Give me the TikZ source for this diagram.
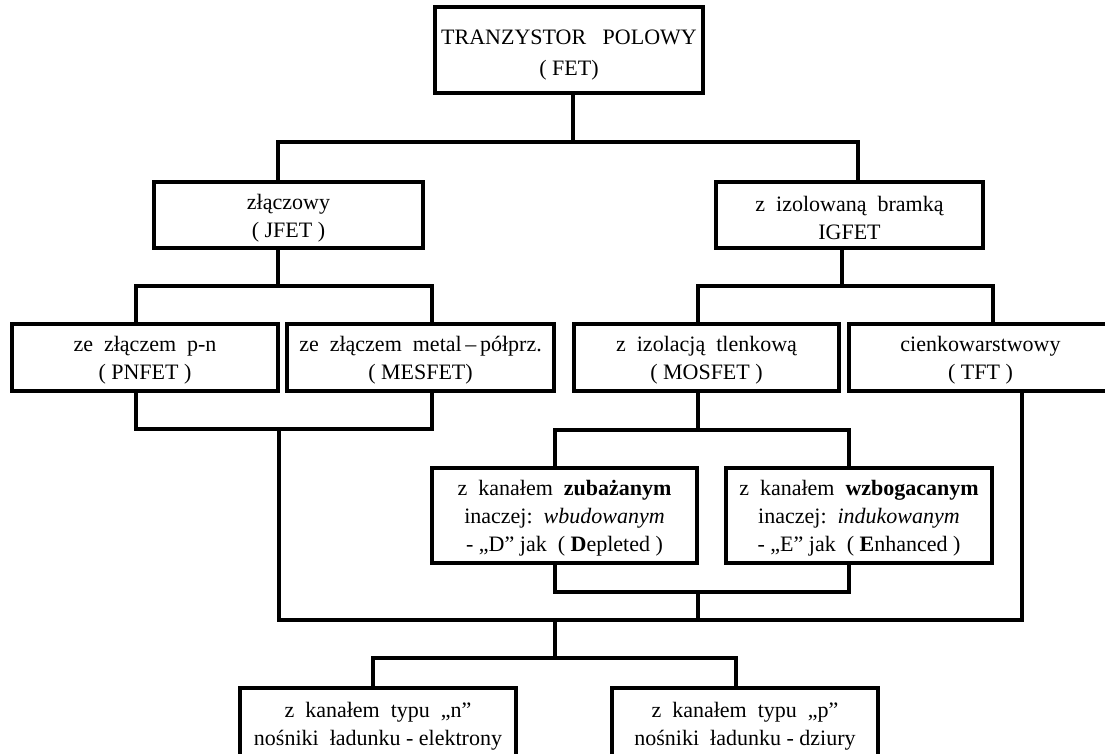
\documentclass[tikz,border=0pt]{standalone}
\usepackage{fontspec}
\setmainfont{Liberation Serif}
\newcommand{\fst}{\rule{0pt}{21pt}}
\begin{document}
\begin{tikzpicture}[x=1pt,y=-1pt,
  box/.style={draw, line width=3.2pt, rectangle, inner sep=0pt, align=center,
    font=\fontsize{22}{28}\selectfont},
  conn/.style={line width=3.2pt, line cap=rect, line join=miter}]
\useasboundingbox (0,0) rectangle (1105,753);
\fill[white] (0,0) rectangle (1105,753);
% nodes
\node[box, minimum width=268pt, minimum height=86pt, font=\fontsize{22}{30.5}\selectfont] (top) at (569,50) {\rule{0pt}{25pt}TRANZYSTOR\ \ \ POLOWY\\( FET)};
\node[box, minimum width=269pt, minimum height=66pt] (jfet) at (288.5,215) {\fst złączowy\\( JFET )};
\node[box, minimum width=267pt, minimum height=66pt] (igfet) at (849.5,215) {\fst z\ \ izolowaną\ \ bramką\\IGFET};
\node[box, minimum width=266pt, minimum height=67pt] (pn) at (145,357.5) {\fst ze\ \ złączem\ \ p-n\\( PNFET )};
\node[box, minimum width=267pt, minimum height=67pt] (mes) at (420.5,357.5) {\fst ze\ \ złączem\ \ metal\,–\,półprz.\\( MESFET)};
\node[box, minimum width=265pt, minimum height=67pt] (mos) at (706.5,357.5) {\fst z\ \ izolacją\ \ tlenkową\\( MOSFET )};
\node[box, minimum width=263pt, minimum height=67pt] (tft) at (980.5,357.5) {\fst cienkowarstwowy\\( TFT )};
\node[box, minimum width=265pt, minimum height=95pt] (dep) at (564.5,515.5) {\fst z\ \ kanałem\ \ \textbf{zubażanym}\\inaczej:\ \ \textit{wbudowanym}\\- „D” jak\ \ ( \textbf{D}epleted )};
\node[box, minimum width=266pt, minimum height=95pt] (enh) at (859,515.5) {\fst z\ \ kanałem\ \ \textbf{wzbogacanym}\\inaczej:\ \ \textit{indukowanym}\\- „E” jak\ \ ( \textbf{E}nhanced )};
\node[box, minimum width=276pt, minimum height=76pt] (nch) at (378,726) {z\ \ kanałem\ \ typu\ \ „n”\\nośniki\ \ ładunku - elektrony};
\node[box, minimum width=266pt, minimum height=76pt] (pch) at (745,726) {z\ \ kanałem\ \ typu\ \ „p”\\nośniki\ \ ładunku - dziury};
% junction coordinates
\coordinate (t0) at (573,142);
\coordinate (tL) at (278,142);
\coordinate (tR) at (858,142);
\coordinate (j0) at (278,286);
\coordinate (jL) at (136,286);
\coordinate (jR) at (432,286);
\coordinate (i0) at (842,286);
\coordinate (iL) at (698,286);
\coordinate (iR) at (993,286);
\coordinate (aL) at (136,429);
\coordinate (aR) at (432,429);
\coordinate (a0) at (279,429);
\coordinate (m0) at (698,430);
\coordinate (mL) at (555,430);
\coordinate (mR) at (849,430);
\coordinate (dL) at (555,592);
\coordinate (dR) at (849,592);
\coordinate (d0) at (698,592);
\coordinate (hL) at (279,620);
\coordinate (hM) at (698,620);
\coordinate (hB) at (555,620);
\coordinate (hR) at (1022,620);
\coordinate (b0) at (555,658);
\coordinate (bL) at (373,658);
\coordinate (bR) at (736,658);
% connectors
\draw[conn] (top.south -| t0) -- (t0);
\draw[conn] (jfet.north -| tL) -- (tL) -- (tR) -- (igfet.north -| tR);
\draw[conn] (jfet.south -| j0) -- (j0);
\draw[conn] (pn.north -| jL) -- (jL) -- (jR) -- (mes.north -| jR);
\draw[conn] (igfet.south -| i0) -- (i0);
\draw[conn] (mos.north -| iL) -- (iL) -- (iR) -- (tft.north -| iR);
\draw[conn] (pn.south -| aL) -- (aL) -- (aR) -- (mes.south -| aR);
\draw[conn] (a0) -- (hL);
\draw[conn] (mos.south -| m0) -- (m0);
\draw[conn] (dep.north -| mL) -- (mL) -- (mR) -- (enh.north -| mR);
\draw[conn] (dep.south -| dL) -- (dL) -- (dR) -- (enh.south -| dR);
\draw[conn] (d0) -- (hM);
\draw[conn] (tft.south -| hR) -- (hR) -- (hL);
\draw[conn] (hB) -- (b0);
\draw[conn] (nch.north -| bL) -- (bL) -- (bR) -- (pch.north -| bR);
\end{tikzpicture}
\end{document}
